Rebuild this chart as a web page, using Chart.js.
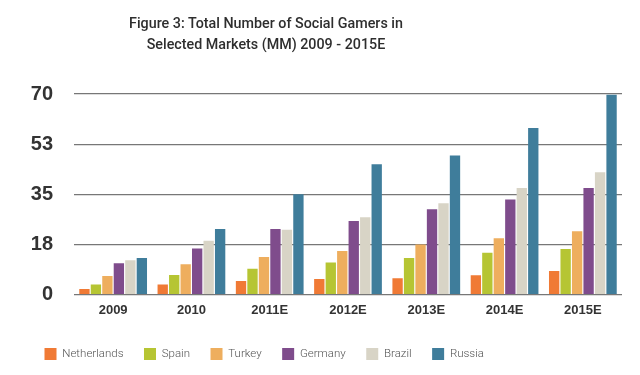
<!DOCTYPE html>
<html>
<head>
<meta charset="utf-8">
<script src="https://cdn.jsdelivr.net/npm/chart.js@4/dist/chart.umd.min.js"></script>
<style>
  html, body { margin: 0; padding: 0; background: #fff; }
  #wrap { position: relative; width: 640px; height: 375px; }
  #title {
    position: absolute; left: 166px; top: 13px; width: 200px;
    text-align: center; white-space: nowrap;
    font-family: Roboto, sans-serif; font-weight: 500; font-size: 14.3px; line-height: 21px;
    color: #2e2e2e;
  }
  #title div { margin-left: -100px; margin-right: -100px; }
</style>
</head>
<body>
<div id="wrap">
  <canvas id="gamers" width="640" height="375"></canvas>
  <div id="title">
    <div>Figure 3: Total Number of Social Gamers in</div>
    <div>Selected Markets (MM) 2009 - 2015E</div>
  </div>
</div>
<script>
// === Data ===
const years = ["2009", "2010", "2011E", "2012E", "2013E", "2014E", "2015E"];
const netherlands = [1.9, 3.5, 4.7, 5.4, 5.7, 6.7, 8.2];
const spain = [3.5, 6.8, 9.0, 11.2, 12.7, 14.6, 15.9];
const turkey = [6.5, 10.6, 13.1, 15.2, 17.5, 19.6, 22.1];
const germany = [10.9, 16.1, 22.9, 25.7, 29.8, 33.2, 37.2];
const brazil = [12.0, 18.8, 22.6, 27.0, 31.9, 37.2, 42.7];
const russia = [12.7, 22.9, 35.0, 45.5, 48.5, 58.1, 69.7];
const yTicks = [0, 17.5, 35, 52.5, 70];

const series = [
  { label: "Netherlands", data: netherlands, color: "#f07a35" },
  { label: "Spain", data: spain, color: "#b6c533" },
  { label: "Turkey", data: turkey, color: "#eeae5e" },
  { label: "Germany", data: germany, color: "#7f4c8c" },
  { label: "Brazil", data: brazil, color: "#d8d4c6" },
  { label: "Russia", data: russia, color: "#3f7d9b" },
];

new Chart(document.getElementById("gamers"), {
  type: "bar",
  data: {
    labels: years,
    datasets: series.map((s) => ({
      label: s.label,
      data: s.data,
      backgroundColor: s.color,
      borderWidth: 0,
      categoryPercentage: 0.88,
      barPercentage: 0.9,
    })),
  },
  options: {
    responsive: false,
    animation: false,
    layout: { padding: { left: 24, right: 18, top: 94, bottom: 5 } },
    plugins: {
      title: { display: false },
      legend: {
        position: "bottom",
        align: "start",
        labels: {
          boxWidth: 12,
          boxHeight: 12,
          padding: 20.5,
          color: "#555",
          font: { family: "Roboto", size: 11.5, weight: "300" },
        },
      },
      tooltip: { enabled: false },
    },
    scales: {
      x: {
        grid: { display: false, drawTicks: false },
        border: { display: false },
        ticks: {
          color: "#333",
          padding: 8,
          font: { family: "Liberation Sans", size: 13, weight: "bold" },
        },
        afterFit: (scale) => { scale.height = 33; },
      },
      y: {
        min: 0,
        max: 70,
        afterBuildTicks: (scale) => { scale.ticks = yTicks.map((v) => ({ value: v })); },
        grid: { color: "#777", lineWidth: 1.2, drawTicks: false },
        border: { display: false },
        ticks: {
          color: "#333",
          padding: 21,
          font: { family: "Liberation Sans", size: 20, weight: "bold" },
          callback: (v) => Math.round(v),
        },
        afterFit: (scale) => { scale.width = 50; },
      },
    },
  },
});
</script>
</body>
</html>
